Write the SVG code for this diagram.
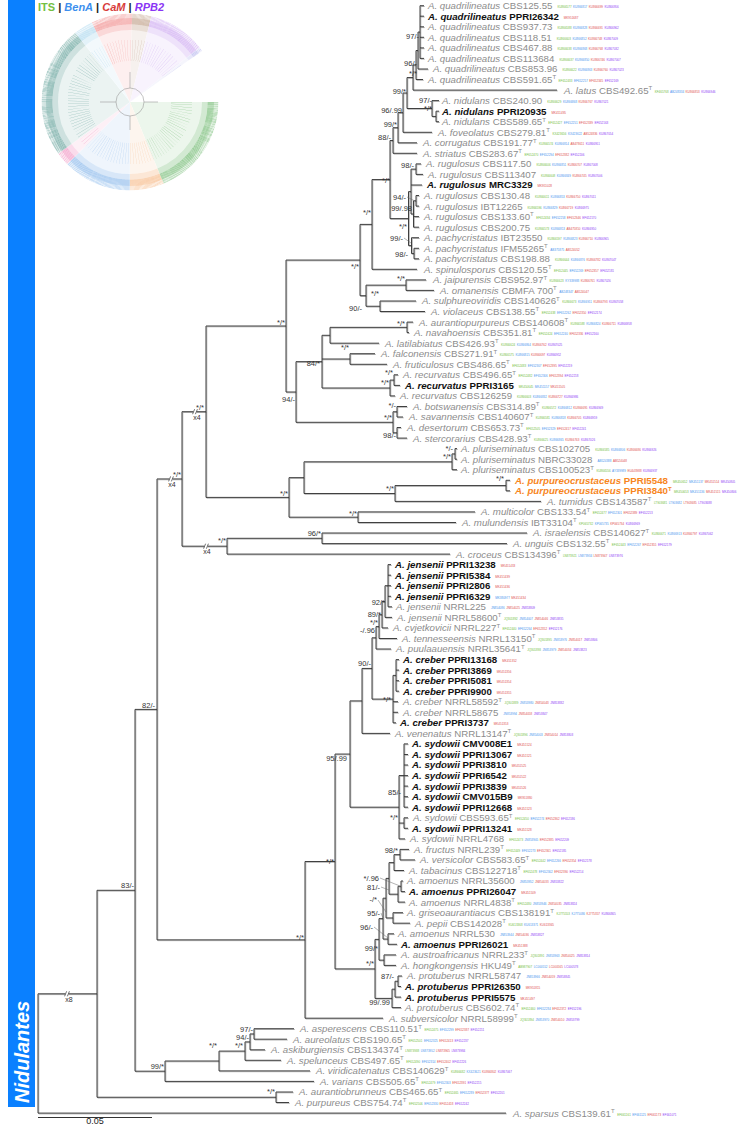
<svg xmlns="http://www.w3.org/2000/svg" width="754" height="1127" viewBox="0 0 754 1127">
<style>
.t{font-family:"Liberation Sans",Arial,sans-serif;font-size:9.7px}
.g{fill:#8c8c8c}
.k{fill:#111;font-weight:bold}
.o{fill:#f7861e;font-weight:bold}
.i{font-style:italic}
.s{font-size:6px}
.a{font-size:3px;font-weight:normal;font-style:normal}
.c1{fill:#74c043}.c2{fill:#4a95ee}.c3{fill:#de4f4f}.c4{fill:#9040f5}
.bs{font-family:"Liberation Sans",Arial,sans-serif;font-size:7.5px;fill:#333;text-anchor:end}
.xm{font-family:"Liberation Sans",Arial,sans-serif;font-size:7px;fill:#333;text-anchor:middle}
.ld{stroke:#666;stroke-width:0.5;fill:none}
</style>
<defs>
<g id="sect" fill="none">
<circle r="1" pathLength="360" stroke="#6db86d" stroke-dasharray="75 360"/>
<circle r="1" pathLength="360" stroke="#f6b27a" stroke-dasharray="25 360" stroke-dashoffset="-75"/>
<circle r="1" pathLength="360" stroke="#7fb3ea" stroke-dasharray="50 360" stroke-dashoffset="-100"/>
<circle r="1" pathLength="360" stroke="#f08cbe" stroke-dasharray="10 360" stroke-dashoffset="-150"/>
<circle r="1" pathLength="360" stroke="#5f9f97" stroke-dasharray="97 360" stroke-dashoffset="-160"/>
<circle r="1" pathLength="360" stroke="#a6d5ee" stroke-dasharray="14 360" stroke-dashoffset="-257"/>
<circle r="1" pathLength="360" stroke="#ef8080" stroke-dasharray="30 360" stroke-dashoffset="-271"/>
<circle r="1" pathLength="360" stroke="#b8937a" stroke-dasharray="14 360" stroke-dashoffset="-301"/>
<circle r="1" pathLength="360" stroke="#c9a0f0" stroke-dasharray="42 360" stroke-dashoffset="-315"/>
<circle r="1" pathLength="360" stroke="#b5b5ee" stroke-dasharray="3 360" stroke-dashoffset="-357"/>
</g>
<mask id="tipm"><circle cx="130" cy="102" r="83" fill="none" stroke="#fff" stroke-width="11" pathLength="360" stroke-dasharray="0.3 0.45"/></mask>
<mask id="brm"><circle cx="130" cy="102" r="52" fill="none" stroke="#fff" stroke-width="22" pathLength="360" stroke-dasharray="0.2 2.5"/></mask>
</defs>
<rect width="754" height="1127" fill="#fff"/>
<g id="clade-bar">
<rect x="8" y="0" width="27" height="1107" fill="#0a80ff"/>
<text transform="translate(29,1103) rotate(-90)" font-family="Liberation Sans, Arial, sans-serif" font-size="20" font-weight="bold" font-style="italic" fill="#fff">Nidulantes</text>
</g>
<g id="legend">
<text x="38" y="10.5" font-family="Liberation Sans, Arial, sans-serif" font-size="11" font-weight="bold"><tspan fill="#74c043">ITS</tspan><tspan fill="#222"> | </tspan><tspan fill="#3d8fee" font-style="italic">BenA</tspan><tspan fill="#222"> | </tspan><tspan fill="#d83c3c" font-style="italic">CaM</tspan><tspan fill="#222"> | </tspan><tspan fill="#8a35f5" font-style="italic">RPB2</tspan></text>
</g>
<g id="thumbnail">
<use href="#sect" transform="translate(130,102) scale(36)" stroke-width="2" opacity="0.12"/>
<use href="#sect" transform="translate(130,102) scale(78)" stroke-width="0.154" opacity="0.3"/>
<g mask="url(#tipm)"><use href="#sect" transform="translate(130,102) scale(83)" stroke-width="0.133" opacity="0.85"/></g>
<g mask="url(#brm)"><use href="#sect" transform="translate(130,102) scale(52)" stroke-width="0.42" opacity="0.75"/></g>
<circle cx="130" cy="102" r="14" fill="none" stroke="#9a9a9a" stroke-width="0.6"/>
<path d="M130 88V72M144 102H158M130 116V130M116 102H100" stroke="#9a9a9a" stroke-width="0.6" fill="none"/>
</g>
<g id="connectors" fill="none" stroke-width="0.95">
<use href="#tree" x="0.8" y="0.8" stroke="#b0b0b0"/>
<g stroke="#363636"><path id="tree" d="M420 5.7V58.4M420 5.7H424M420 16.2H424M420 26.8H424M420 37.3H424M420 47.9H424M420 58.4H424M418 32.05V69M418 32.05H420M418 69H428M416 50.5V79.5M416 50.5H418M416 79.5H423M413 65V90.1M413 65H416M413 90.1H557M436 111.2V121.7M436 111.2H439M436 121.7H439M432 100.6V116.45M432 100.6H439M432 116.45H436M407 77.55V108.5M407 77.55H413M407 108.5H432M403 93V132.3M403 93H407M403 132.3H432M398 112.65V142.8M398 112.65H403M398 142.8H417M393 127.7V153.3M393 127.7H398M393 153.3H417M416 163.9V174.4M416 163.9H421M416 174.4H423M416 195.5V206.1M416 195.5H419M416 206.1H419M413.5 200.8V227.2M413.5 200.8H416M413.5 216.6H419M413.5 227.2H419M411 169.15V214M411 169.15H416M411 185H422M411 214H413.5M414 248.3V258.8M414 248.3H419M414 258.8H419M411.5 237.7V253.55M411.5 237.7H419M411.5 253.55H414M408.5 191.6V245.6M408.5 191.6H411M408.5 245.6H411.5M390 140.5V218.6M390 140.5H393M390 218.6H408.5M372 179.55V269.3M372 179.55H390M372 269.3H417M406 279.9V290.4M406 279.9H426M406 290.4H434M380 301V311.5M380 301H416M380 311.5H425M366 285.15V306.25M366 285.15H406M366 306.25H380M360 224.4V295.7M360 224.4H372M360 295.7H366M407 322.1V332.6M407 322.1H413M407 332.6H409M330 327.35V343.2M330 327.35H407M330 343.2H379M350 353.7V364.3M350 353.7H375M350 364.3H387M394 374.8V385.4M394 374.8H398M394 385.4H400M390 380.1V395.9M390 380.1H394M390 395.9H395M322 335.3V388M322 335.3H330M322 359H350M322 388H390M397 406.5V417M397 406.5H407M397 417H403M397 427.5V438.1M397 427.5H401M397 438.1H407M393 411.75V432.8M393 411.75H397M393 432.8H397M296 361.65V422.3M296 361.65H322M296 422.3H393M286 260.05V392M286 260.05H360M286 392H296M455 448.6V459.2M455 448.6H457M455 459.2H457M452 453.9V469.7M452 453.9H455M452 469.7H457M506 480.3V490.8M506 480.3H510M506 490.8H510M395 485.55V501.4M395 485.55H506M395 501.4H541M304 461.8V493.5M304 461.8H452M304 493.5H395M358 511.9V522.5M358 511.9H475M358 522.5H456M289 477.65V517.2M289 477.65H304M289 517.2H358M206 326V497.4M206 326H286M206 497.4H289M322 533V543.6M322 533H527M322 543.6H507M227 538.3V554.1M227 538.3H322M227 554.1H450M182 411.7V546.2M182 411.7H206M182 546.2H227M388 564.6V606.8M388 564.6H391M388 575.2H391M388 585.7H391M388 596.3H391M388 606.8H392M385 585.7V617.4M385 585.7H388M385 617.4H392M382 601.55V627.9M382 601.55H385M382 627.9H388M379 614.7V638.5M379 614.7H382M379 638.5H397M376 626.6V649M376 626.6H379M376 649H391M396 659.6V691.2M396 659.6H399M396 670.1H399M396 680.7H399M396 691.2H399M393 675.4V722.8M393 675.4H396M393 701.7H398M393 712.3H398M393 722.8H396M372 637.8V699.1M372 637.8H376M372 699.1H393M362 668.45V733.4M362 668.45H372M362 733.4H390M404 743.9V807.2M404 743.9H408M404 754.5H408M404 765H408M404 775.6H408M404 786.1H408M404 796.7H408M404 807.2H408M404 817.8V828.3M404 817.8H408M404 828.3H408M399 775.55V838.9M399 775.55H404M399 823.05H404M399 838.9H405M350 700.9V807.2M350 700.9H362M350 807.2H399M400 849.4V859.9M400 849.4H409M400 859.9H415M394 854.65V870.5M394 854.65H400M394 870.5H404M401 881V891.6M401 881H403M401 891.6H405M398 886.3V902.1M398 886.3H401M398 902.1H405M389 862.6V894.2M389 862.6H394M389 894.2H398M393 912.7V923.2M393 912.7H403M393 923.2H410M386 878.4V917.95M386 878.4H389M386 917.95H393M388 933.8V944.3M388 933.8H394M388 944.3H397M383 898.2V939.05M383 898.2H386M383 939.05H388M384 954.9V965.4M384 954.9H396M384 965.4H396M379 918.6V960.15M379 918.6H383M379 960.15H384M398 976V986.5M398 976H402M398 986.5H401M395 981.25V997.1M395 981.25H398M395 997.1H401M392 989.2V1007.6M392 989.2H395M392 1007.6H401M375 939.4V998.4M375 939.4H379M375 998.4H392M335 754.05V968.9M335 754.05H350M335 968.9H375M305 861.5V1018.2M305 861.5H335M305 1018.2H383M157 478.95V939.85M157 478.95H182M157 939.85H305M254 1028.7V1039.2M254 1028.7H294M254 1039.2H287M250 1033.95V1049.8M250 1033.95H254M250 1049.8H265M245 1041.9V1060.3M245 1041.9H250M245 1060.3H281M219 1051.1V1070.9M219 1051.1H245M219 1070.9H310M165 1061V1081.4M165 1061H219M165 1081.4H314M135 709.4V1071.2M135 709.4H157M135 1071.2H165M276 1092V1102.5M276 1092H293M276 1102.5H289M97 890.3V1097.25M97 890.3H135M97 1097.25H276M38 993.8V1113.1M38 993.8H97M38 1113.1H506"/></g>
<g fill="#fff" stroke="none">
<rect x="193.3" y="408.5" width="3.4" height="6.5"/>
<rect x="169.3" y="475.7" width="3.4" height="6.5"/>
<rect x="204.3" y="543" width="3.4" height="6.5"/>
<rect x="65.3" y="990.6" width="3.4" height="6.5"/>
</g>
<path stroke="#333" stroke-width="0.7" d="M192.6 414.2L194.6 409.2M195.4 414.2L197.4 409.2M168.6 481.4L170.6 476.4M171.4 481.4L173.4 476.4M203.6 548.7L205.6 543.7M206.4 548.7L208.4 543.7M64.6 996.3L66.6 991.3M67.4 996.3L69.4 991.3"/>
<path class="ld" d="M407 197L415 201M404 238L411 243M380 878L400 886M381 887L389 890M378 900L386 912M381 913L383 918M374 927L388 938"/>
</g>
<g id="scale">
<path d="M38 1117.5H152" stroke="#333" stroke-width="1" fill="none"/>
<text x="95" y="1124" font-family="Liberation Sans, Arial, sans-serif" font-size="9" fill="#222" text-anchor="middle">0.05</text>
</g>
<g id="support">
<text class="bs" x="419" y="39">97/-</text>
<text class="bs" x="417" y="65.5">96/-</text>
<text class="bs" x="417" y="75.5">*/*</text>
<text class="bs" x="432" y="102.5">97/-</text>
<text class="bs" x="432" y="110.5">*/*</text>
<text class="bs" x="406" y="93.5">99/*</text>
<text class="bs" x="402" y="112.5">96/.99</text>
<text class="bs" x="397" y="126.5">99/*</text>
<text class="bs" x="391" y="139.5">88/-</text>
<text class="bs" x="390" y="182.5">*/*</text>
<text class="bs" x="414" y="167.5">98/-</text>
<text class="bs" x="406" y="199.5">94/-</text>
<text class="bs" x="412" y="210.5">99/.98</text>
<text class="bs" x="407" y="228.5">*/*</text>
<text class="bs" x="403" y="240.5">99/-</text>
<text class="bs" x="408" y="256.5">98/-</text>
<text class="bs" x="371" y="214.5">*/*</text>
<text class="bs" x="359" y="268.5">*/*</text>
<text class="bs" x="362" y="310.5">90/-</text>
<text class="bs" x="405" y="280.5">*/*</text>
<text class="bs" x="379" y="295.5">*/*</text>
<text class="bs" x="405" y="325.5">*/*</text>
<text class="bs" x="285" y="324.5">*/*</text>
<text class="bs" x="349" y="350">*/*</text>
<text class="bs" x="320" y="365.5">84/*</text>
<text class="bs" x="393" y="374.5">*/*</text>
<text class="bs" x="389" y="384.5">*/*</text>
<text class="bs" x="295" y="401.5">94/-</text>
<text class="bs" x="396" y="407.5">*/-</text>
<text class="bs" x="392" y="419.5">*/*</text>
<text class="bs" x="396" y="437.5">98/-</text>
<text class="bs" x="453" y="450.5">*/-</text>
<text class="bs" x="451" y="458.5">*/*</text>
<text class="bs" x="504" y="481">*/*</text>
<text class="bs" x="394" y="490.5">*/*</text>
<text class="bs" x="288" y="495.5">*/*</text>
<text class="bs" x="357" y="515.5">*/*</text>
<text class="bs" x="204" y="409.5">*/*</text>
<text class="bs" x="181" y="477">*/*</text>
<text class="bs" x="226" y="542.5">*/*</text>
<text class="bs" x="321" y="535.5">96/*</text>
<text class="bs" x="385" y="604.5">92/*</text>
<text class="bs" x="381" y="616.5">89/*</text>
<text class="bs" x="378" y="624.5">*/*</text>
<text class="bs" x="375" y="632.5">-/.96</text>
<text class="bs" x="371" y="665.5">90/-</text>
<text class="bs" x="391" y="701.5">*/*</text>
<text class="bs" x="347" y="760.5">95/.99</text>
<text class="bs" x="401" y="794.5">85/-</text>
<text class="bs" x="398" y="819.5">*/*</text>
<text class="bs" x="398" y="852.5">98/*</text>
<text class="bs" x="334" y="863.5">*/*</text>
<text class="bs" x="304" y="939.5">*/*</text>
<text class="bs" x="379" y="880.5">*/.96</text>
<text class="bs" x="380" y="889.5">81/-</text>
<text class="bs" x="377" y="902">-/*</text>
<text class="bs" x="380" y="915.5">95/-</text>
<text class="bs" x="373" y="929.5">96/-</text>
<text class="bs" x="378" y="950.5">99/*</text>
<text class="bs" x="374" y="965.5">*/*</text>
<text class="bs" x="394" y="978.5">87/-</text>
<text class="bs" x="390" y="1004.5">99/.99</text>
<text class="bs" x="155" y="708">82/-</text>
<text class="bs" x="134" y="888">83/-</text>
<text class="bs" x="164" y="1069">99/*</text>
<text class="bs" x="217" y="1047.5">*/*</text>
<text class="bs" x="243" y="1047.5">*/*</text>
<text class="bs" x="249" y="1039.5">94/-</text>
<text class="bs" x="253" y="1031.5">97/-</text>
<text class="bs" x="275" y="1093.5">*/*</text>
<text class="xm" x="197" y="420">x4</text>
<text class="xm" x="172" y="487">x4</text>
<text class="xm" x="207" y="554">x4</text>
<text class="xm" x="69" y="1002">x8</text>
</g>
<g id="taxa">
<g id="t1"><text class="t g" x="428" y="9.1"><tspan class="i">A. quadrilineatus</tspan> CBS125.55<tspan class="a c1" dx="5" dy="-1">KU866577</tspan><tspan class="a c2" dx="1.5">KU866817</tspan><tspan class="a c3" dx="1.5">KU866699</tspan><tspan class="a c4" dx="1.5">KU866956</tspan></text></g>
<g id="t2"><text class="t k" x="428" y="19.6"><tspan class="i">A. quadrilineatus</tspan> PPRI26342<tspan class="a c3" dx="5" dy="-1">MK951687</tspan></text></g>
<g id="t3"><text class="t g" x="428" y="30.2"><tspan class="i">A. quadrilineatus</tspan> CBS937.73<tspan class="a c1" dx="5" dy="-1">KU866588</tspan><tspan class="a c2" dx="1.5">KU866828</tspan><tspan class="a c3" dx="1.5">KU866691</tspan><tspan class="a c4" dx="1.5">KU866962</tspan></text></g>
<g id="t4"><text class="t g" x="428" y="40.7"><tspan class="i">A. quadrilineatus</tspan> CBS118.51<tspan class="a c1" dx="5" dy="-1">KU866603</tspan><tspan class="a c2" dx="1.5">KU866852</tspan><tspan class="a c3" dx="1.5">KU866748</tspan><tspan class="a c4" dx="1.5">KU867009</tspan></text></g>
<g id="t5"><text class="t g" x="428" y="51.3"><tspan class="i">A. quadrilineatus</tspan> CBS467.88<tspan class="a c1" dx="5" dy="-1">KU866638</tspan><tspan class="a c2" dx="1.5">KU866868</tspan><tspan class="a c3" dx="1.5">KU866768</tspan><tspan class="a c4" dx="1.5">KU867032</tspan></text></g>
<g id="t6"><text class="t g" x="428" y="61.8"><tspan class="i">A. quadrilineatus</tspan> CBS113684<tspan class="a c1" dx="5" dy="-1">KU866637</tspan><tspan class="a c2" dx="1.5">KU866850</tspan><tspan class="a c3" dx="1.5">KU866746</tspan><tspan class="a c4" dx="1.5">KU867007</tspan></text></g>
<g id="t7"><text class="t g" x="433" y="72.4"><tspan class="i">A. quadrilineatus</tspan> CBS853.96<tspan class="a c1" dx="5" dy="-1">KU866622</tspan><tspan class="a c2" dx="1.5">KU866863</tspan><tspan class="a c3" dx="1.5">KU866760</tspan><tspan class="a c4" dx="1.5">KU867023</tspan></text></g>
<g id="t8"><text class="t g" x="428" y="82.9"><tspan class="i">A. quadrilineatus</tspan> CBS591.65<tspan class="s" dy="-3.6">T</tspan><tspan class="a c1" dx="2.5" dy="2.6">EF652433</tspan><tspan class="a c2" dx="1.5">EF652257</tspan><tspan class="a c3" dx="1.5">EF652345</tspan><tspan class="a c4" dx="1.5">EF652169</tspan></text></g>
<g id="t9"><text class="t g" x="564" y="93.5"><tspan class="i">A. latus</tspan> CBS492.65<tspan class="s" dy="-3.6">T</tspan><tspan class="a c1" dx="2.5" dy="2.6">KF465768</tspan><tspan class="a c2" dx="1.5">AB248334</tspan><tspan class="a c3" dx="1.5">KU866853</tspan><tspan class="a c4" dx="1.5">KU866946</tspan></text></g>
<g id="t10"><text class="t g" x="442" y="104"><tspan class="i">A. nidulans</tspan> CBS240.90<tspan class="a c1" dx="5" dy="-1">KU866629</tspan><tspan class="a c2" dx="1.5">KU866868</tspan><tspan class="a c3" dx="1.5">KU866767</tspan><tspan class="a c4" dx="1.5">KU867021</tspan></text></g>
<g id="t11"><text class="t k" x="442" y="114.6"><tspan class="i">A. nidulans</tspan> PPRI20935<tspan class="a c3" dx="5" dy="-1">MK451495</tspan></text></g>
<g id="t12"><text class="t g" x="442" y="125.1"><tspan class="i">A. nidulans</tspan> CBS589.65<tspan class="s" dy="-3.6">T</tspan><tspan class="a c1" dx="2.5" dy="2.6">EF652427</tspan><tspan class="a c2" dx="1.5">EF652251</tspan><tspan class="a c3" dx="1.5">EF652339</tspan><tspan class="a c4" dx="1.5">EF652163</tspan></text></g>
<g id="t13"><text class="t g" x="438" y="135.7"><tspan class="i">A. foveolatus</tspan> CBS279.81<tspan class="s" dy="-3.6">T</tspan><tspan class="a c1" dx="2.5" dy="2.6">KX423656</tspan><tspan class="a c2" dx="1.5">KX423622</tspan><tspan class="a c3" dx="1.5">AB524836</tspan><tspan class="a c4" dx="1.5">KU867054</tspan></text></g>
<g id="t14"><text class="t g" x="423" y="146.2"><tspan class="i">A. corrugatus</tspan> CBS191.77<tspan class="s" dy="-3.6">T</tspan><tspan class="a c1" dx="2.5" dy="2.6">KU866574</tspan><tspan class="a c2" dx="1.5">KU866814</tspan><tspan class="a c3" dx="1.5">AB478611</tspan><tspan class="a c4" dx="1.5">KU866951</tspan></text></g>
<g id="t15"><text class="t g" x="423" y="156.7"><tspan class="i">A. striatus</tspan> CBS283.67<tspan class="s" dy="-3.6">T</tspan><tspan class="a c1" dx="2.5" dy="2.6">EF652470</tspan><tspan class="a c2" dx="1.5">EF652294</tspan><tspan class="a c3" dx="1.5">EF652382</tspan><tspan class="a c4" dx="1.5">EF652206</tspan></text></g>
<g id="t16"><text class="t g" x="426" y="167.3"><tspan class="i">A. rugulosus</tspan> CBS117.50<tspan class="a c1" dx="5" dy="-1">KU866606</tspan><tspan class="a c2" dx="1.5">KU866851</tspan><tspan class="a c3" dx="1.5">KU866707</tspan><tspan class="a c4" dx="1.5">KU867008</tspan></text></g>
<g id="t17"><text class="t g" x="428" y="177.8"><tspan class="i">A. rugulosus</tspan> CBS113407<tspan class="a c1" dx="5" dy="-1">KU866608</tspan><tspan class="a c2" dx="1.5">KU866849</tspan><tspan class="a c3" dx="1.5">KU866745</tspan><tspan class="a c4" dx="1.5">KU867006</tspan></text></g>
<g id="t18"><text class="t k" x="427" y="188.4"><tspan class="i">A. rugulosus</tspan> MRC3329<tspan class="a c3" dx="5" dy="-1">MK951028</tspan></text></g>
<g id="t19"><text class="t g" x="424" y="198.9"><tspan class="i">A. rugulosus</tspan> CBS130.48<tspan class="a c1" dx="5" dy="-1">KU866611</tspan><tspan class="a c2" dx="1.5">KU866853</tspan><tspan class="a c3" dx="1.5">KU866750</tspan><tspan class="a c4" dx="1.5">KU867011</tspan></text></g>
<g id="t20"><text class="t g" x="424" y="209.5"><tspan class="i">A. rugulosus</tspan> IBT12265<tspan class="a c1" dx="5" dy="-1">KU866596</tspan><tspan class="a c2" dx="1.5">KU866829</tspan><tspan class="a c3" dx="1.5">KU866719</tspan><tspan class="a c4" dx="1.5">KU866975</tspan></text></g>
<g id="t21"><text class="t g" x="424" y="220"><tspan class="i">A. rugulosus</tspan> CBS133.60<tspan class="s" dy="-3.6">T</tspan><tspan class="a c1" dx="2.5" dy="2.6">EF652434</tspan><tspan class="a c2" dx="1.5">EF652258</tspan><tspan class="a c3" dx="1.5">EF652346</tspan><tspan class="a c4" dx="1.5">EF652170</tspan></text></g>
<g id="t22"><text class="t g" x="424" y="230.6"><tspan class="i">A. rugulosus</tspan> CBS200.75<tspan class="a c1" dx="5" dy="-1">KU866573</tspan><tspan class="a c2" dx="1.5">KU866813</tspan><tspan class="a c3" dx="1.5">AB475810</tspan><tspan class="a c4" dx="1.5">KU866950</tspan></text></g>
<g id="t23"><text class="t g" x="424" y="241.1"><tspan class="i">A. pachycristatus</tspan> IBT23550<tspan class="a c1" dx="5" dy="-1">KU866597</tspan><tspan class="a c2" dx="1.5">KU866823</tspan><tspan class="a c3" dx="1.5">KU866710</tspan><tspan class="a c4" dx="1.5">KU866965</tspan></text></g>
<g id="t24"><text class="t g" x="424" y="251.7"><tspan class="i">A. pachycristatus</tspan> IFM55265<tspan class="s" dy="-3.6">T</tspan><tspan class="a c2" dx="2.5" dy="2.6">AB375875</tspan><tspan class="a c3" dx="1.5">AB524052</tspan></text></g>
<g id="t25"><text class="t g" x="424" y="262.2"><tspan class="i">A. pachycristatus</tspan> CBS198.88<tspan class="a c1" dx="5" dy="-1">KU866644</tspan><tspan class="a c2" dx="1.5">KU866876</tspan><tspan class="a c3" dx="1.5">KU866782</tspan><tspan class="a c4" dx="1.5">KU867047</tspan></text></g>
<g id="t26"><text class="t g" x="424" y="272.7"><tspan class="i">A. spinulosporus</tspan> CBS120.55<tspan class="s" dy="-3.6">T</tspan><tspan class="a c1" dx="2.5" dy="2.6">EF652445</tspan><tspan class="a c2" dx="1.5">EF652269</tspan><tspan class="a c3" dx="1.5">EF652357</tspan><tspan class="a c4" dx="1.5">EF652181</tspan></text></g>
<g id="t27"><text class="t g" x="433" y="283.3"><tspan class="i">A. jaipurensis</tspan> CBS952.97<tspan class="s" dy="-3.6">T</tspan><tspan class="a c1" dx="2.5" dy="2.6">KU866623</tspan><tspan class="a c2" dx="1.5">KY339988</tspan><tspan class="a c3" dx="1.5">KU866761</tspan><tspan class="a c4" dx="1.5">KU867026</tspan></text></g>
<g id="t28"><text class="t g" x="440" y="293.8"><tspan class="i">A. omanensis</tspan> CBMFA 700<tspan class="s" dy="-3.6">T</tspan><tspan class="a c2" dx="2.5" dy="2.6">AB248347</tspan><tspan class="a c3" dx="1.5">AB524047</tspan></text></g>
<g id="t29"><text class="t g" x="422" y="304.4"><tspan class="i">A. sulphureoviridis</tspan> CBS140626<tspan class="s" dy="-3.6">T</tspan><tspan class="a c1" dx="2.5" dy="2.6">KU866673</tspan><tspan class="a c2" dx="1.5">KU866911</tspan><tspan class="a c3" dx="1.5">KU866793</tspan><tspan class="a c4" dx="1.5">KU867058</tspan></text></g>
<g id="t30"><text class="t g" x="431" y="314.9"><tspan class="i">A. violaceus</tspan> CBS138.55<tspan class="s" dy="-3.6">T</tspan><tspan class="a c1" dx="2.5" dy="2.6">EF652438</tspan><tspan class="a c2" dx="1.5">EF652262</tspan><tspan class="a c3" dx="1.5">EF652350</tspan><tspan class="a c4" dx="1.5">EF652174</tspan></text></g>
<g id="t31"><text class="t g" x="419" y="325.5"><tspan class="i">A. aurantiopurpureus</tspan> CBS140608<tspan class="s" dy="-3.6">T</tspan><tspan class="a c1" dx="2.5" dy="2.6">KU866588</tspan><tspan class="a c2" dx="1.5">KU866824</tspan><tspan class="a c3" dx="1.5">KU866711</tspan><tspan class="a c4" dx="1.5">KU866958</tspan></text></g>
<g id="t32"><text class="t g" x="414" y="336"><tspan class="i">A. navahoensis</tspan> CBS351.81<tspan class="s" dy="-3.6">T</tspan><tspan class="a c1" dx="2.5" dy="2.6">EF652424</tspan><tspan class="a c2" dx="1.5">EF652240</tspan><tspan class="a c3" dx="1.5">EF652336</tspan><tspan class="a c4" dx="1.5">EF652160</tspan></text></g>
<g id="t33"><text class="t g" x="385" y="346.6"><tspan class="i">A. latilabiatus</tspan> CBS426.93<tspan class="s" dy="-3.6">T</tspan><tspan class="a c1" dx="2.5" dy="2.6">KU866624</tspan><tspan class="a c2" dx="1.5">KU866864</tspan><tspan class="a c3" dx="1.5">KU866762</tspan><tspan class="a c4" dx="1.5">KU867025</tspan></text></g>
<g id="t34"><text class="t g" x="381" y="357.1"><tspan class="i">A. falconensis</tspan> CBS271.91<tspan class="s" dy="-3.6">T</tspan><tspan class="a c1" dx="2.5" dy="2.6">KU866575</tspan><tspan class="a c2" dx="1.5">KU866815</tspan><tspan class="a c3" dx="1.5">KU866697</tspan><tspan class="a c4" dx="1.5">KU866952</tspan></text></g>
<g id="t35"><text class="t g" x="393" y="367.7"><tspan class="i">A. fruticulosus</tspan> CBS486.65<tspan class="s" dy="-3.6">T</tspan><tspan class="a c1" dx="2.5" dy="2.6">EF652483</tspan><tspan class="a c2" dx="1.5">EF652307</tspan><tspan class="a c3" dx="1.5">EF652395</tspan><tspan class="a c4" dx="1.5">EF652219</tspan></text></g>
<g id="t36"><text class="t g" x="403" y="378.2"><tspan class="i">A. recurvatus</tspan> CBS496.65<tspan class="s" dy="-3.6">T</tspan><tspan class="a c1" dx="2.5" dy="2.6">EF652482</tspan><tspan class="a c2" dx="1.5">EF652306</tspan><tspan class="a c3" dx="1.5">EF652394</tspan><tspan class="a c4" dx="1.5">EF652218</tspan></text></g>
<g id="t37"><text class="t k" x="405" y="388.8"><tspan class="i">A. recurvatus</tspan> PPRI3165<tspan class="a c1" dx="5" dy="-1">MK450645</tspan><tspan class="a c2" dx="1.5">MK451157</tspan><tspan class="a c3" dx="1.5">MK451505</tspan></text></g>
<g id="t38"><text class="t g" x="400" y="399.3"><tspan class="i">A. recurvatus</tspan> CBS126259<tspan class="a c1" dx="5" dy="-1">KU866603</tspan><tspan class="a c2" dx="1.5">KU866832</tspan><tspan class="a c3" dx="1.5">KU866727</tspan><tspan class="a c4" dx="1.5">KU866986</tspan></text></g>
<g id="t39"><text class="t g" x="413" y="409.9"><tspan class="i">A. botswanensis</tspan> CBS314.89<tspan class="s" dy="-3.6">T</tspan><tspan class="a c1" dx="2.5" dy="2.6">KU866572</tspan><tspan class="a c2" dx="1.5">KU866812</tspan><tspan class="a c3" dx="1.5">KU866695</tspan><tspan class="a c4" dx="1.5">KU866949</tspan></text></g>
<g id="t40"><text class="t g" x="409" y="420.4"><tspan class="i">A. savannensis</tspan> CBS140607<tspan class="s" dy="-3.6">T</tspan><tspan class="a c1" dx="2.5" dy="2.6">KU866581</tspan><tspan class="a c2" dx="1.5">KU866818</tspan><tspan class="a c3" dx="1.5">KU866705</tspan><tspan class="a c4" dx="1.5">KU866959</tspan></text></g>
<g id="t41"><text class="t g" x="407" y="430.9"><tspan class="i">A. desertorum</tspan> CBS653.73<tspan class="s" dy="-3.6">T</tspan><tspan class="a c1" dx="2.5" dy="2.6">EF652505</tspan><tspan class="a c2" dx="1.5">EF652329</tspan><tspan class="a c3" dx="1.5">EF652417</tspan><tspan class="a c4" dx="1.5">EF652241</tspan></text></g>
<g id="t42"><text class="t g" x="413" y="441.5"><tspan class="i">A. stercorarius</tspan> CBS428.93<tspan class="s" dy="-3.6">T</tspan><tspan class="a c1" dx="2.5" dy="2.6">KU866625</tspan><tspan class="a c2" dx="1.5">KU866865</tspan><tspan class="a c3" dx="1.5">KU866763</tspan><tspan class="a c4" dx="1.5">KU867026</tspan></text></g>
<g id="t43"><text class="t g" x="461" y="452"><tspan class="i">A. pluriseminatus</tspan> CBS102705<tspan class="a c1" dx="5" dy="-1">KU866585</tspan><tspan class="a c2" dx="1.5">KU866806</tspan><tspan class="a c3" dx="1.5">KU866686</tspan><tspan class="a c4" dx="1.5">KU866926</tspan></text></g>
<g id="t44"><text class="t g" x="461" y="462.6"><tspan class="i">A. pluriseminatus</tspan> NBRC33028<tspan class="a c2" dx="5" dy="-1">AB524388</tspan><tspan class="a c3" dx="1.5">AB524048</tspan></text></g>
<g id="t45"><text class="t g" x="461" y="473.1"><tspan class="i">A. pluriseminatus</tspan> CBS100523<tspan class="s" dy="-3.6">T</tspan><tspan class="a c1" dx="2.5" dy="2.6">KU866556</tspan><tspan class="a c2" dx="1.5">AY339989</tspan><tspan class="a c3" dx="1.5">EU443988</tspan><tspan class="a c4" dx="1.5">KU866937</tspan></text></g>
<g id="t46"><text class="t o" x="515" y="483.7"><tspan class="i">A. purpureocrustaceus</tspan> PPRI5548<tspan class="a c1" dx="5" dy="-1">MK450652</tspan><tspan class="a c2" dx="1.5">MK451137</tspan><tspan class="a c3" dx="1.5">MK451514</tspan><tspan class="a c4" dx="1.5">MK450805</tspan></text></g>
<g id="t47"><text class="t o" x="515" y="494.2"><tspan class="i">A. purpureocrustaceus</tspan> PPRI3840<tspan class="s" dy="-3.6">T</tspan><tspan class="a c1" dx="2.5" dy="2.6">MK450653</tspan><tspan class="a c2" dx="1.5">MK451136</tspan><tspan class="a c3" dx="1.5">MK451515</tspan><tspan class="a c4" dx="1.5">MK450806</tspan></text></g>
<g id="t48"><text class="t g" x="547" y="504.8"><tspan class="i">A. tumidus</tspan> CBS143587<tspan class="s" dy="-3.6">T</tspan><tspan class="a c1" dx="2.5" dy="2.6">LT903681</tspan><tspan class="a c2" dx="1.5">LT903682</tspan><tspan class="a c3" dx="1.5">LT903685</tspan><tspan class="a c4" dx="1.5">LT903688</tspan></text></g>
<g id="t49"><text class="t g" x="481" y="515.3"><tspan class="i">A. multicolor</tspan> CBS133.54<tspan class="s" dy="-3.6">T</tspan><tspan class="a c1" dx="2.5" dy="2.6">EF652477</tspan><tspan class="a c2" dx="1.5">EF652301</tspan><tspan class="a c3" dx="1.5">EF652389</tspan><tspan class="a c4" dx="1.5">EF652213</tspan></text></g>
<g id="t50"><text class="t g" x="462" y="525.9"><tspan class="i">A. mulundensis</tspan> IBT33104<tspan class="s" dy="-3.6">T</tspan><tspan class="a c1" dx="2.5" dy="2.6">KP065732</tspan><tspan class="a c2" dx="1.5">KP065735</tspan><tspan class="a c3" dx="1.5">KP065734</tspan><tspan class="a c4" dx="1.5">KU866969</tspan></text></g>
<g id="t51"><text class="t g" x="533" y="536.4"><tspan class="i">A. israelensis</tspan> CBS140627<tspan class="s" dy="-3.6">T</tspan><tspan class="a c1" dx="2.5" dy="2.6">KU866671</tspan><tspan class="a c2" dx="1.5">KU866913</tspan><tspan class="a c3" dx="1.5">KU866797</tspan><tspan class="a c4" dx="1.5">KU867062</tspan></text></g>
<g id="t52"><text class="t g" x="513" y="547"><tspan class="i">A. unguis</tspan> CBS132.55<tspan class="s" dy="-3.6">T</tspan><tspan class="a c1" dx="2.5" dy="2.6">EF652443</tspan><tspan class="a c2" dx="1.5">EF652267</tspan><tspan class="a c3" dx="1.5">EF652355</tspan><tspan class="a c4" dx="1.5">EF652179</tspan></text></g>
<g id="t53"><text class="t g" x="456" y="557.5"><tspan class="i">A. croceus</tspan> CBS134396<tspan class="s" dy="-3.6">T</tspan><tspan class="a c1" dx="2.5" dy="2.6">LN873921</tspan><tspan class="a c2" dx="1.5">LN873934</tspan><tspan class="a c3" dx="1.5">LN873947</tspan><tspan class="a c4" dx="1.5">LN873976</tspan></text></g>
<g id="t54"><text class="t k" x="395" y="568"><tspan class="i">A. jensenii</tspan> PPRI13238<tspan class="a c3" dx="5" dy="-1">MK451433</tspan></text></g>
<g id="t55"><text class="t k" x="395" y="578.6"><tspan class="i">A. jensenii</tspan> PPRI5384<tspan class="a c3" dx="5" dy="-1">MK451439</tspan></text></g>
<g id="t56"><text class="t k" x="395" y="589.1"><tspan class="i">A. jensenii</tspan> PPRI2806<tspan class="a c3" dx="5" dy="-1">MK451436</tspan></text></g>
<g id="t57"><text class="t k" x="395" y="599.7"><tspan class="i">A. jensenii</tspan> PPRI6329<tspan class="a c2" dx="5" dy="-1">MK380977</tspan><tspan class="a c3" dx="1.5">MK451434</tspan></text></g>
<g id="t58"><text class="t g" x="396" y="610.2"><tspan class="i">A. jensenii</tspan> NRRL225<tspan class="a c2" dx="5" dy="-1">JN854086</tspan><tspan class="a c3" dx="1.5">JN854025</tspan><tspan class="a c4" dx="1.5">JN853809</tspan></text></g>
<g id="t59"><text class="t g" x="397" y="620.8"><tspan class="i">A. jensenii</tspan> NRRL58600<tspan class="s" dy="-3.6">T</tspan><tspan class="a c1" dx="2.5" dy="2.6">JQ301892</tspan><tspan class="a c2" dx="1.5">JN854007</tspan><tspan class="a c3" dx="1.5">JN854046</tspan><tspan class="a c4" dx="1.5">JN853835</tspan></text></g>
<g id="t60"><text class="t g" x="393" y="631.3"><tspan class="i">A. cvjetkovicii</tspan> NRRL227<tspan class="s" dy="-3.6">T</tspan><tspan class="a c1" dx="2.5" dy="2.6">EF652440</tspan><tspan class="a c2" dx="1.5">EF652264</tspan><tspan class="a c3" dx="1.5">EF652352</tspan><tspan class="a c4" dx="1.5">EF652176</tspan></text></g>
<g id="t61"><text class="t g" x="402" y="641.9"><tspan class="i">A. tennesseensis</tspan> NRRL13150<tspan class="s" dy="-3.6">T</tspan><tspan class="a c1" dx="2.5" dy="2.6">JQ301895</tspan><tspan class="a c2" dx="1.5">JN853976</tspan><tspan class="a c3" dx="1.5">JN854017</tspan><tspan class="a c4" dx="1.5">JN853806</tspan></text></g>
<g id="t62"><text class="t g" x="396" y="652.4"><tspan class="i">A. puulaauensis</tspan> NRRL35641<tspan class="s" dy="-3.6">T</tspan><tspan class="a c1" dx="2.5" dy="2.6">JQ301893</tspan><tspan class="a c2" dx="1.5">JN853979</tspan><tspan class="a c3" dx="1.5">JN854034</tspan><tspan class="a c4" dx="1.5">JN853823</tspan></text></g>
<g id="t63"><text class="t k" x="403" y="663"><tspan class="i">A. creber</tspan> PPRI13168<tspan class="a c3" dx="5" dy="-1">MK451352</tspan></text></g>
<g id="t64"><text class="t k" x="403" y="673.5"><tspan class="i">A. creber</tspan> PPRI3869<tspan class="a c3" dx="5" dy="-1">MK451356</tspan></text></g>
<g id="t65"><text class="t k" x="403" y="684.1"><tspan class="i">A. creber</tspan> PPRI5081<tspan class="a c3" dx="5" dy="-1">MK451354</tspan></text></g>
<g id="t66"><text class="t k" x="403" y="694.6"><tspan class="i">A. creber</tspan> PPRI9900<tspan class="a c3" dx="5" dy="-1">MK451355</tspan></text></g>
<g id="t67"><text class="t g" x="403" y="705.1"><tspan class="i">A. creber</tspan> NRRL58592<tspan class="s" dy="-3.6">T</tspan><tspan class="a c1" dx="2.5" dy="2.6">JQ301889</tspan><tspan class="a c2" dx="1.5">JN853980</tspan><tspan class="a c3" dx="1.5">JN854043</tspan><tspan class="a c4" dx="1.5">JN853832</tspan></text></g>
<g id="t68"><text class="t g" x="403" y="715.7"><tspan class="i">A. creber</tspan> NRRL58675<tspan class="a c2" dx="5" dy="-1">JN853994</tspan><tspan class="a c3" dx="1.5">JN854058</tspan><tspan class="a c4" dx="1.5">JN853847</tspan></text></g>
<g id="t69"><text class="t k" x="400" y="726.2"><tspan class="i">A. creber</tspan> PPRI3737<tspan class="a c3" dx="5" dy="-1">MK451353</tspan></text></g>
<g id="t70"><text class="t g" x="395" y="736.8"><tspan class="i">A. venenatus</tspan> NRRL13147<tspan class="s" dy="-3.6">T</tspan><tspan class="a c1" dx="2.5" dy="2.6">JQ301896</tspan><tspan class="a c2" dx="1.5">JN854003</tspan><tspan class="a c3" dx="1.5">JN854014</tspan><tspan class="a c4" dx="1.5">JN853803</tspan></text></g>
<g id="t71"><text class="t k" x="412" y="747.3"><tspan class="i">A. sydowii</tspan> CMV008E1<tspan class="a c3" dx="5" dy="-1">MK451524</tspan></text></g>
<g id="t72"><text class="t k" x="412" y="757.9"><tspan class="i">A. sydowii</tspan> PPRI13067<tspan class="a c3" dx="5" dy="-1">MK451521</tspan></text></g>
<g id="t73"><text class="t k" x="412" y="768.4"><tspan class="i">A. sydowii</tspan> PPRI3810<tspan class="a c3" dx="5" dy="-1">MK451525</tspan></text></g>
<g id="t74"><text class="t k" x="412" y="779"><tspan class="i">A. sydowii</tspan> PPRI6542<tspan class="a c3" dx="5" dy="-1">MK451522</tspan></text></g>
<g id="t75"><text class="t k" x="412" y="789.5"><tspan class="i">A. sydowii</tspan> PPRI3839<tspan class="a c3" dx="5" dy="-1">MK451526</tspan></text></g>
<g id="t76"><text class="t k" x="412" y="800.1"><tspan class="i">A. sydowii</tspan> CMV015B9<tspan class="a c3" dx="5" dy="-1">MK951880</tspan></text></g>
<g id="t77"><text class="t k" x="412" y="810.6"><tspan class="i">A. sydowii</tspan> PPRI12668<tspan class="a c3" dx="5" dy="-1">MK451523</tspan></text></g>
<g id="t78"><text class="t g" x="413" y="821.2"><tspan class="i">A. sydowii</tspan> CBS593.65<tspan class="s" dy="-3.6">T</tspan><tspan class="a c1" dx="2.5" dy="2.6">EF652450</tspan><tspan class="a c2" dx="1.5">EF652274</tspan><tspan class="a c3" dx="1.5">EF652362</tspan><tspan class="a c4" dx="1.5">EF652186</tspan></text></g>
<g id="t79"><text class="t k" x="412" y="831.7"><tspan class="i">A. sydowii</tspan> PPRI13241<tspan class="a c3" dx="5" dy="-1">MK451528</tspan></text></g>
<g id="t80"><text class="t g" x="410" y="842.3"><tspan class="i">A. sydowii</tspan> NRRL4768<tspan class="a c1" dx="5" dy="-1">EF652473</tspan><tspan class="a c2" dx="1.5">JN853905</tspan><tspan class="a c3" dx="1.5">EF652385</tspan><tspan class="a c4" dx="1.5">EF652209</tspan></text></g>
<g id="t81"><text class="t g" x="414" y="852.8"><tspan class="i">A. fructus</tspan> NRRL239<tspan class="s" dy="-3.6">T</tspan><tspan class="a c1" dx="2.5" dy="2.6">EF652449</tspan><tspan class="a c2" dx="1.5">EF652273</tspan><tspan class="a c3" dx="1.5">EF652361</tspan><tspan class="a c4" dx="1.5">EF652185</tspan></text></g>
<g id="t82"><text class="t g" x="420" y="863.3"><tspan class="i">A. versicolor</tspan> CBS583.65<tspan class="s" dy="-3.6">T</tspan><tspan class="a c1" dx="2.5" dy="2.6">EF652442</tspan><tspan class="a c2" dx="1.5">EF652266</tspan><tspan class="a c3" dx="1.5">EF652354</tspan><tspan class="a c4" dx="1.5">EF652178</tspan></text></g>
<g id="t83"><text class="t g" x="409" y="873.9"><tspan class="i">A. tabacinus</tspan> CBS122718<tspan class="s" dy="-3.6">T</tspan><tspan class="a c1" dx="2.5" dy="2.6">EF652478</tspan><tspan class="a c2" dx="1.5">EF652302</tspan><tspan class="a c3" dx="1.5">EF652390</tspan><tspan class="a c4" dx="1.5">EF652214</tspan></text></g>
<g id="t84"><text class="t g" x="407" y="884.4"><tspan class="i">A. amoenus</tspan> NRRL35600<tspan class="a c2" dx="5" dy="-1">JN853952</tspan><tspan class="a c3" dx="1.5">JN854033</tspan><tspan class="a c4" dx="1.5">JN853822</tspan></text></g>
<g id="t85"><text class="t k" x="409" y="895"><tspan class="i">A. amoenus</tspan> PPRI26047<tspan class="a c3" dx="5" dy="-1">MK451509</tspan></text></g>
<g id="t86"><text class="t g" x="409" y="905.5"><tspan class="i">A. amoenus</tspan> NRRL4838<tspan class="s" dy="-3.6">T</tspan><tspan class="a c1" dx="2.5" dy="2.6">EF652480</tspan><tspan class="a c2" dx="1.5">JN853946</tspan><tspan class="a c3" dx="1.5">JN854035</tspan><tspan class="a c4" dx="1.5">JN853824</tspan></text></g>
<g id="t87"><text class="t g" x="407" y="916.1"><tspan class="i">A. griseoaurantiacus</tspan> CBS138191<tspan class="s" dy="-3.6">T</tspan><tspan class="a c1" dx="2.5" dy="2.6">KJ775553</tspan><tspan class="a c2" dx="1.5">KJ775086</tspan><tspan class="a c3" dx="1.5">KJ775357</tspan><tspan class="a c4" dx="1.5">KU866865</tspan></text></g>
<g id="t88"><text class="t g" x="415" y="926.6"><tspan class="i">A. pepii</tspan> CBS142028<tspan class="s" dy="-3.6">T</tspan><tspan class="a c1" dx="2.5" dy="2.6">KU613368</tspan><tspan class="a c2" dx="1.5">KU613371</tspan><tspan class="a c3" dx="1.5">KU613365</tspan></text></g>
<g id="t89"><text class="t g" x="398" y="937.2"><tspan class="i">A. amoenus</tspan> NRRL530<tspan class="a c2" dx="5" dy="-1">JN853944</tspan><tspan class="a c3" dx="1.5">JN854036</tspan><tspan class="a c4" dx="1.5">JN853827</tspan></text></g>
<g id="t90"><text class="t k" x="401" y="947.7"><tspan class="i">A. amoenus</tspan> PPRI26021<tspan class="a c3" dx="5" dy="-1">MK451388</tspan></text></g>
<g id="t91"><text class="t g" x="401" y="958.3"><tspan class="i">A. austroafricanus</tspan> NRRL233<tspan class="s" dy="-3.6">T</tspan><tspan class="a c1" dx="2.5" dy="2.6">JQ301891</tspan><tspan class="a c2" dx="1.5">JN853963</tspan><tspan class="a c3" dx="1.5">JN854025</tspan><tspan class="a c4" dx="1.5">JN853814</tspan></text></g>
<g id="t92"><text class="t g" x="401" y="968.8"><tspan class="i">A. hongkongensis</tspan> HKU49<tspan class="s" dy="-3.6">T</tspan><tspan class="a c1" dx="2.5" dy="2.6">AB987907</tspan><tspan class="a c2" dx="1.5">LC000552</tspan><tspan class="a c3" dx="1.5">LC000565</tspan><tspan class="a c4" dx="1.5">LC000578</tspan></text></g>
<g id="t93"><text class="t g" x="407" y="979.4"><tspan class="i">A. protuberus</tspan> NRRL58747<tspan class="a c2" dx="5" dy="-1">JN853966</tspan><tspan class="a c3" dx="1.5">JN854059</tspan><tspan class="a c4" dx="1.5">JN853845</tspan></text></g>
<g id="t94"><text class="t k" x="405" y="989.9"><tspan class="i">A. protuberus</tspan> PPRI26350<tspan class="a c3" dx="5" dy="-1">MK951815</tspan></text></g>
<g id="t95"><text class="t k" x="405" y="1000.5"><tspan class="i">A. protuberus</tspan> PPRI5575<tspan class="a c3" dx="5" dy="-1">MK451497</tspan></text></g>
<g id="t96"><text class="t g" x="405" y="1011"><tspan class="i">A. protuberus</tspan> CBS602.74<tspan class="s" dy="-3.6">T</tspan><tspan class="a c1" dx="2.5" dy="2.6">EF652460</tspan><tspan class="a c2" dx="1.5">EF652284</tspan><tspan class="a c3" dx="1.5">EF652372</tspan><tspan class="a c4" dx="1.5">EF652196</tspan></text></g>
<g id="t97"><text class="t g" x="389" y="1021.6"><tspan class="i">A. subversicolor</tspan> NRRL58999<tspan class="s" dy="-3.6">T</tspan><tspan class="a c1" dx="2.5" dy="2.6">JQ301894</tspan><tspan class="a c2" dx="1.5">JN853970</tspan><tspan class="a c3" dx="1.5">JN854010</tspan><tspan class="a c4" dx="1.5">JN853799</tspan></text></g>
<g id="t98"><text class="t g" x="300" y="1032.1"><tspan class="i">A. asperescens</tspan> CBS110.51<tspan class="s" dy="-3.6">T</tspan><tspan class="a c1" dx="2.5" dy="2.6">EF652475</tspan><tspan class="a c2" dx="1.5">EF652299</tspan><tspan class="a c3" dx="1.5">EF652387</tspan><tspan class="a c4" dx="1.5">EF652211</tspan></text></g>
<g id="t99"><text class="t g" x="293" y="1042.6"><tspan class="i">A. aureolatus</tspan> CBS190.65<tspan class="s" dy="-3.6">T</tspan><tspan class="a c1" dx="2.5" dy="2.6">EF652501</tspan><tspan class="a c2" dx="1.5">EF652325</tspan><tspan class="a c3" dx="1.5">EF652413</tspan><tspan class="a c4" dx="1.5">EF652237</tspan></text></g>
<g id="t100"><text class="t g" x="271" y="1053.2"><tspan class="i">A. askiburgiensis</tspan> CBS134374<tspan class="s" dy="-3.6">T</tspan><tspan class="a c1" dx="2.5" dy="2.6">LN873938</tspan><tspan class="a c2" dx="1.5">LN873952</tspan><tspan class="a c3" dx="1.5">LN873965</tspan><tspan class="a c4" dx="1.5">LN873984</tspan></text></g>
<g id="t101"><text class="t g" x="287" y="1063.7"><tspan class="i">A. spelunceus</tspan> CBS497.65<tspan class="s" dy="-3.6">T</tspan><tspan class="a c1" dx="2.5" dy="2.6">EF652490</tspan><tspan class="a c2" dx="1.5">EF652314</tspan><tspan class="a c3" dx="1.5">EF652402</tspan><tspan class="a c4" dx="1.5">EF652226</tspan></text></g>
<g id="t102"><text class="t g" x="316" y="1074.3"><tspan class="i">A. viridicatenatus</tspan> CBS140629<tspan class="s" dy="-3.6">T</tspan><tspan class="a c1" dx="2.5" dy="2.6">KU866682</tspan><tspan class="a c2" dx="1.5">KX423621</tspan><tspan class="a c3" dx="1.5">KU866802</tspan><tspan class="a c4" dx="1.5">KU867067</tspan></text></g>
<g id="t103"><text class="t g" x="320" y="1084.8"><tspan class="i">A. varians</tspan> CBS505.65<tspan class="s" dy="-3.6">T</tspan><tspan class="a c1" dx="2.5" dy="2.6">EF652479</tspan><tspan class="a c2" dx="1.5">EF652303</tspan><tspan class="a c3" dx="1.5">EF652391</tspan><tspan class="a c4" dx="1.5">EF652215</tspan></text></g>
<g id="t104"><text class="t g" x="299" y="1095.4"><tspan class="i">A. aurantiobrunneus</tspan> CBS465.65<tspan class="s" dy="-3.6">T</tspan><tspan class="a c1" dx="2.5" dy="2.6">EF652465</tspan><tspan class="a c2" dx="1.5">EF652289</tspan><tspan class="a c3" dx="1.5">EF652377</tspan><tspan class="a c4" dx="1.5">EF652201</tspan></text></g>
<g id="t105"><text class="t g" x="295" y="1105.9"><tspan class="i">A. purpureus</tspan> CBS754.74<tspan class="s" dy="-3.6">T</tspan><tspan class="a c1" dx="2.5" dy="2.6">EF652506</tspan><tspan class="a c2" dx="1.5">EF652330</tspan><tspan class="a c3" dx="1.5">EF652418</tspan><tspan class="a c4" dx="1.5">EF652242</tspan></text></g>
<g id="t106"><text class="t g" x="513" y="1116.5"><tspan class="i">A. sparsus</tspan> CBS139.61<tspan class="s" dy="-3.6">T</tspan><tspan class="a c1" dx="2.5" dy="2.6">EF661161</tspan><tspan class="a c2" dx="1.5">EF661125</tspan><tspan class="a c3" dx="1.5">EF661173</tspan><tspan class="a c4" dx="1.5">EF661071</tspan></text></g>
</g>
</svg>
